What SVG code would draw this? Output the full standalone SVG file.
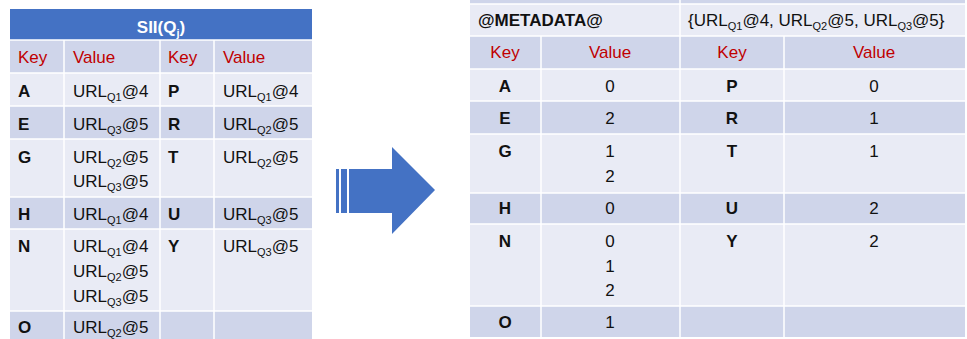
<svg xmlns="http://www.w3.org/2000/svg" width="967" height="339" viewBox="0 0 967 339">
  <style>
    text { font-family: "Liberation Sans", Arial, sans-serif; font-size: 17px; fill: #111; }
    .hd { fill: #c00000; }
    .k { font-weight: bold; }
    .title { font-weight: bold; fill: #ffffff; }
    .sub { font-size: 11px; }
    .c { text-anchor: middle; }
    .dark { fill: #cfd5ea; }
    .light { fill: #e9ebf5; }
    .grid { stroke: #ffffff; stroke-width: 1.5; fill: none; }
    .arrow { fill: #4472c4; }
  </style>

  <rect width="967" height="339" fill="#ffffff"/>

  <!-- Left table: SII(Qj) -->
  <g id="sii-table">
    <rect x="10" y="9" width="302" height="31" fill="#4472c4"/>
    <rect class="dark" x="10" y="40" width="302" height="33"/>
    <rect class="light" x="10" y="73" width="302" height="33"/>
    <rect class="dark" x="10" y="106" width="302" height="33"/>
    <rect class="light" x="10" y="139" width="302" height="58"/>
    <rect class="dark" x="10" y="197" width="302" height="32"/>
    <rect class="light" x="10" y="229" width="302" height="82"/>
    <rect class="dark" x="10" y="311" width="302" height="28"/>
    <path class="grid" d="M10 40H312M10 73H312M10 106H312M10 139H312M10 197H312M10 229H312M10 311H312M64 40V339M160 40V339M214 40V339"/>

    <text class="title c" x="161" y="33">SII(Q<tspan class="sub" dy="4">j</tspan><tspan dy="-4">)</tspan></text>

    <text class="hd" x="18" y="63">Key</text>
    <text class="hd" x="73" y="63">Value</text>
    <text class="hd" x="168" y="63">Key</text>
    <text class="hd" x="223" y="63">Value</text>

    <text class="k" x="18" y="97">A</text>
    <text x="73" y="97">URL<tspan class="sub" dy="4">Q1</tspan><tspan dy="-4">@4</tspan></text>
    <text class="k" x="168" y="97">P</text>
    <text x="223" y="97">URL<tspan class="sub" dy="4">Q1</tspan><tspan dy="-4">@4</tspan></text>

    <text class="k" x="18" y="130">E</text>
    <text x="73" y="130">URL<tspan class="sub" dy="4">Q3</tspan><tspan dy="-4">@5</tspan></text>
    <text class="k" x="168" y="130">R</text>
    <text x="223" y="130">URL<tspan class="sub" dy="4">Q2</tspan><tspan dy="-4">@5</tspan></text>

    <text class="k" x="18" y="163">G</text>
    <text x="73" y="163">URL<tspan class="sub" dy="4">Q2</tspan><tspan dy="-4">@5</tspan></text>
    <text x="73" y="187">URL<tspan class="sub" dy="4">Q3</tspan><tspan dy="-4">@5</tspan></text>
    <text class="k" x="168" y="163">T</text>
    <text x="223" y="163">URL<tspan class="sub" dy="4">Q2</tspan><tspan dy="-4">@5</tspan></text>

    <text class="k" x="18" y="220">H</text>
    <text x="73" y="220">URL<tspan class="sub" dy="4">Q1</tspan><tspan dy="-4">@4</tspan></text>
    <text class="k" x="168" y="220">U</text>
    <text x="223" y="220">URL<tspan class="sub" dy="4">Q3</tspan><tspan dy="-4">@5</tspan></text>

    <text class="k" x="18" y="252">N</text>
    <text x="73" y="252">URL<tspan class="sub" dy="4">Q1</tspan><tspan dy="-4">@4</tspan></text>
    <text x="73" y="277">URL<tspan class="sub" dy="4">Q2</tspan><tspan dy="-4">@5</tspan></text>
    <text x="73" y="302">URL<tspan class="sub" dy="4">Q3</tspan><tspan dy="-4">@5</tspan></text>
    <text class="k" x="168" y="252">Y</text>
    <text x="223" y="252">URL<tspan class="sub" dy="4">Q3</tspan><tspan dy="-4">@5</tspan></text>

    <text class="k" x="18" y="333">O</text>
    <text x="73" y="333">URL<tspan class="sub" dy="4">Q2</tspan><tspan dy="-4">@5</tspan></text>
  </g>

  <!-- Transformation arrow -->
  <g id="arrow">
    <rect class="arrow" x="336" y="169" width="3" height="44"/>
    <rect class="arrow" x="341" y="169" width="6" height="44"/>
    <polygon class="arrow" points="349,169 392,169 392,147 435,190 392,234 392,213 349,213"/>
  </g>

  <!-- Right table: metadata-encoded index -->
  <g id="metadata-table">
    <rect class="dark" x="470" y="0" width="495" height="4"/>
    <rect class="light" x="470" y="4" width="495" height="32"/>
    <rect class="dark" x="470" y="36" width="495" height="33"/>
    <rect class="light" x="470" y="69" width="495" height="32"/>
    <rect class="dark" x="470" y="101" width="495" height="33"/>
    <rect class="light" x="470" y="134" width="495" height="59"/>
    <rect class="dark" x="470" y="193" width="495" height="31"/>
    <rect class="light" x="470" y="224" width="495" height="82"/>
    <rect class="dark" x="470" y="306" width="495" height="31"/>
    <path class="grid" d="M470 4H965M470 36H965M470 69H965M470 101H965M470 134H965M470 193H965M470 224H965M470 306H965M680 0V337M541 36V337M784 36V337"/>

    <text class="k" x="478" y="26">@METADATA@</text>
    <text x="688" y="26">{URL<tspan class="sub" dy="4">Q1</tspan><tspan dy="-4">@4, URL</tspan><tspan class="sub" dy="4">Q2</tspan><tspan dy="-4">@5, URL</tspan><tspan class="sub" dy="4">Q3</tspan><tspan dy="-4">@5}</tspan></text>

    <text class="hd c" x="505" y="58">Key</text>
    <text class="hd c" x="610" y="58">Value</text>
    <text class="hd c" x="732" y="58">Key</text>
    <text class="hd c" x="874" y="58">Value</text>

    <text class="k c" x="505" y="92">A</text>
    <text class="c" x="610" y="92">0</text>
    <text class="k c" x="732" y="92">P</text>
    <text class="c" x="874" y="92">0</text>

    <text class="k c" x="505" y="124">E</text>
    <text class="c" x="610" y="124">2</text>
    <text class="k c" x="732" y="124">R</text>
    <text class="c" x="874" y="124">1</text>

    <text class="k c" x="505" y="157">G</text>
    <text class="c" x="610" y="157">1</text>
    <text class="c" x="610" y="182">2</text>
    <text class="k c" x="732" y="157">T</text>
    <text class="c" x="874" y="157">1</text>

    <text class="k c" x="505" y="214">H</text>
    <text class="c" x="610" y="214">0</text>
    <text class="k c" x="732" y="214">U</text>
    <text class="c" x="874" y="214">2</text>

    <text class="k c" x="505" y="247">N</text>
    <text class="c" x="610" y="247">0</text>
    <text class="c" x="610" y="272">1</text>
    <text class="c" x="610" y="296">2</text>
    <text class="k c" x="732" y="247">Y</text>
    <text class="c" x="874" y="247">2</text>

    <text class="k c" x="505" y="328">O</text>
    <text class="c" x="610" y="328">1</text>
  </g>
</svg>
